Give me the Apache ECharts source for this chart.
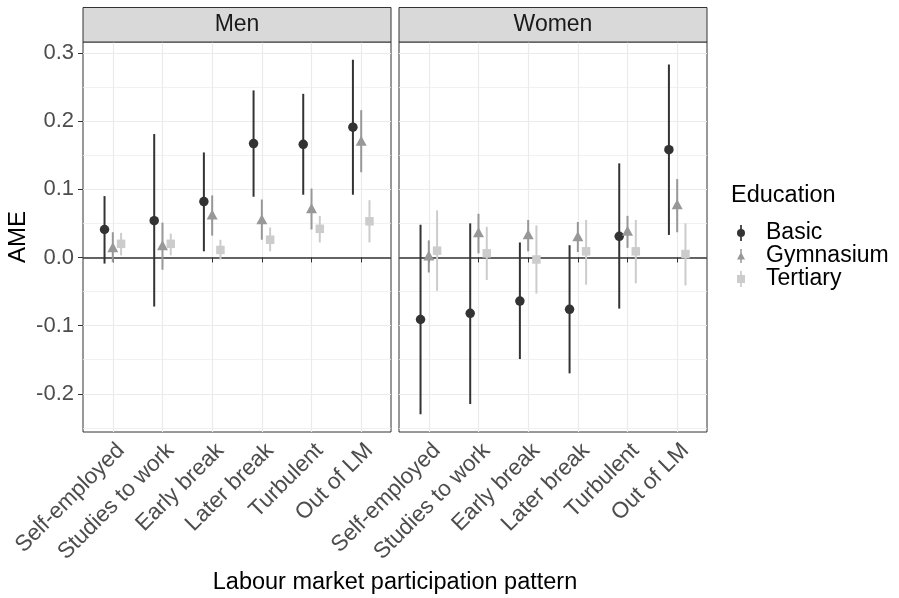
<!DOCTYPE html>
<html><head><meta charset="utf-8">
<script src="https://cdn.jsdelivr.net/npm/echarts@6/dist/echarts.min.js"></script>
<style>html,body{margin:0;padding:0;background:#fff}#c{width:899px;height:598px}</style>
</head><body><div id="c"></div>
<script>
// ---- data ----
const categories = ['Self-employed', 'Studies to work', 'Early break', 'Later break', 'Turbulent', 'Out of LM'];
const panels = ['Men', 'Women'];
const educations = ['Basic', 'Gymnasium', 'Tertiary'];
const yTicks = [-0.2, -0.1, 0.0, 0.1, 0.2, 0.3];
const yMinorTicks = [-0.25, -0.15, -0.05, 0.05, 0.15, 0.25];
const zeroLine = 0;

const menBasicEst = [0.041, 0.054, 0.082, 0.167, 0.166, 0.191];
const menBasicLo  = [-0.009, -0.072, 0.009, 0.089, 0.092, 0.092];
const menBasicHi  = [0.090, 0.181, 0.154, 0.245, 0.240, 0.290];
const menGymEst   = [0.015, 0.018, 0.063, 0.056, 0.072, 0.171];
const menGymLo    = [-0.007, -0.018, 0.032, 0.026, 0.041, 0.125];
const menGymHi    = [0.037, 0.051, 0.091, 0.085, 0.101, 0.216];
const menTertEst  = [0.020, 0.020, 0.011, 0.026, 0.042, 0.053];
const menTertLo   = [0.003, 0.003, -0.003, 0.009, 0.022, 0.022];
const menTertHi   = [0.036, 0.035, 0.026, 0.044, 0.061, 0.084];

const womenBasicEst = [-0.091, -0.082, -0.064, -0.076, 0.031, 0.158];
const womenBasicLo  = [-0.230, -0.215, -0.149, -0.170, -0.075, 0.033];
const womenBasicHi  = [0.048, 0.050, 0.022, 0.018, 0.138, 0.283];
const womenGymEst   = [0.003, 0.037, 0.034, 0.031, 0.039, 0.078];
const womenGymLo    = [-0.022, 0.006, 0.009, 0.008, 0.014, 0.037];
const womenGymHi    = [0.025, 0.064, 0.055, 0.052, 0.061, 0.115];
const womenTertEst  = [0.010, 0.006, -0.003, 0.009, 0.009, 0.005];
const womenTertLo   = [-0.049, -0.033, -0.053, -0.040, -0.038, -0.041];
const womenTertHi   = [0.069, 0.045, 0.047, 0.055, 0.055, 0.050];

const dataByPanel = [
  [[menBasicEst, menBasicLo, menBasicHi], [menGymEst, menGymLo, menGymHi], [menTertEst, menTertLo, menTertHi]],
  [[womenBasicEst, womenBasicLo, womenBasicHi], [womenGymEst, womenGymLo, womenGymHi], [womenTertEst, womenTertLo, womenTertHi]]
];

// ---- style ----
const FONT = 'Liberation Sans, Arial, Helvetica, sans-serif';
const colors = ['#333333', '#989898', '#CCCCCC'];
const symbols = ['circle', 'triangle', 'rect'];
const symbolSizes = [9.5, [11, 10], 8.5];
const dodge = [-1 / 6, 0, 1 / 6];
const panelLeft = [83, 399];
const panelWidth = 308;
const panelTop = 42;
const panelHeight = 390;
const yMin = -0.256, yMax = 0.316;
const catTicks = categories.map((c, i) => i + 1);

const legendIcons = [
  'path://M3.25,0h1.5v14h-1.5z M0.5,7a3.5,3.5 0 1,1 7,0a3.5,3.5 0 1,1 -7,0z',
  'path://M3.25,0h1.5v14h-1.5z M4,3L8,10.5L0,10.5z',
  'path://M3.25,0h1.5v14h-1.5z M0.5,3.5h7v7h-7z'
];

const grids = [], xAxes = [], yAxes = [], series = [], graphics = [];
panels.forEach((p, g) => {
  grids.push({left: panelLeft[g], top: panelTop, width: panelWidth, height: panelHeight,
    show: true, borderColor: '#333333', borderWidth: 1, backgroundColor: '#ffffff', containLabel: false});
  xAxes.push({
    gridIndex: g, type: 'value', min: 0.4, max: 6.6,
    axisLine: {show: false},
    axisTick: {show: true, customValues: catTicks, length: 5, lineStyle: {color: '#333333', width: 1}},
    axisLabel: {customValues: catTicks, formatter: v => categories[Math.round(v) - 1], rotate: 45,
      align: 'right', verticalAlign: 'top',
      fontSize: 22.5, color: '#4D4D4D', margin: 7, fontFamily: FONT},
    splitLine: {show: true, lineStyle: {color: '#EBEBEB', width: 1.2}}
  });
  yAxes.push({
    gridIndex: g, type: 'value', min: yMin, max: yMax, position: 'left',
    axisLine: {show: false},
    axisTick: {show: g === 0, customValues: yTicks, length: 5, lineStyle: {color: '#333333', width: 1}},
    axisLabel: {show: g === 0, customValues: yTicks, formatter: v => v.toFixed(1),
      fontSize: 22, color: '#4D4D4D', margin: 9, fontFamily: FONT},
    splitLine: {show: true, lineStyle: {color: '#EBEBEB', width: 1.2}}
  });
  yAxes.push({
    gridIndex: g, type: 'value', min: yMin, max: yMax, position: 'left',
    axisLine: {show: false},
    axisTick: {show: false, customValues: yMinorTicks},
    axisLabel: {show: false, customValues: yMinorTicks},
    splitLine: {show: true, lineStyle: {color: '#EEEEEE', width: 0.8}}
  });
  // strip
  graphics.push({type: 'rect', shape: {x: panelLeft[g], y: 7.5, width: panelWidth, height: 34.5},
    style: {fill: '#D9D9D9', stroke: '#333333', lineWidth: 1}, z: 10});
  graphics.push({type: 'text', x: panelLeft[g] + panelWidth / 2, y: 25,
    style: {text: p, fill: '#1A1A1A', font: '23px ' + FONT, textAlign: 'center', textVerticalAlign: 'middle'}, z: 11});

  educations.forEach((e, k) => {
    const [est, lo, hi] = dataByPanel[g][k];
    const rangeData = categories.map((c, i) => [i + 1 + dodge[k], lo[i], hi[i]]);
    series.push({
      type: 'custom', name: e + '-range', xAxisIndex: g, yAxisIndex: g * 2,
      data: rangeData, encode: {x: 0, y: [1, 2]}, z: 3, silent: true,
      renderItem: (params, api) => {
        const a = api.coord([api.value(0), api.value(1)]);
        const b = api.coord([api.value(0), api.value(2)]);
        return {type: 'line', shape: {x1: a[0], y1: a[1], x2: b[0], y2: b[1]},
          style: {stroke: colors[k], lineWidth: 2}};
      }
    });
    const s = {
      type: 'scatter', name: e, xAxisIndex: g, yAxisIndex: g * 2,
      data: categories.map((c, i) => [i + 1 + dodge[k], est[i]]),
      symbol: symbols[k], symbolSize: symbolSizes[k],
      itemStyle: {color: colors[k], opacity: 1}, z: 4, silent: true
    };
    if (k === 0) {
      s.markLine = {silent: true, symbol: 'none', z: 2, label: {show: false},
        lineStyle: {color: '#333333', width: 1.6, type: 'solid'}, emphasis: {disabled: true},
        data: [{yAxis: zeroLine}]};
    }
    series.push(s);
  });
});

graphics.push({type: 'text', x: 18, y: panelTop + panelHeight / 2, rotation: Math.PI / 2,
  style: {text: 'AME', fill: '#000000', font: '24px ' + FONT, textAlign: 'center', textVerticalAlign: 'middle'}});
graphics.push({type: 'text', x: (panelLeft[0] + panelLeft[1] + panelWidth) / 2, y: 583,
  style: {text: 'Labour market participation pattern', fill: '#000000', font: '23.5px ' + FONT,
    textAlign: 'center', textVerticalAlign: 'middle'}});
graphics.push({type: 'text', x: 731, y: 196,
  style: {text: 'Education', fill: '#000000', font: '23.5px ' + FONT, textAlign: 'left', textVerticalAlign: 'middle'}});

const chart = echarts.init(document.getElementById('c'), null, {renderer: 'canvas'});
chart.setOption({
  animation: false,
  backgroundColor: '#ffffff',
  grid: grids, xAxis: xAxes, yAxis: yAxes, series: series, graphic: graphics,
  legend: {
    orient: 'vertical', left: 737, top: 221.5, itemWidth: 8, itemHeight: 16, itemGap: 0,
    padding: 0, selectedMode: false,
    textStyle: {fontSize: 23, lineHeight: 22, color: '#000000', fontFamily: FONT, padding: [0, 0, 0, 16]},
    data: educations.map((e, i) => ({name: e, icon: legendIcons[i]}))
  }
});
</script>
</body></html>
